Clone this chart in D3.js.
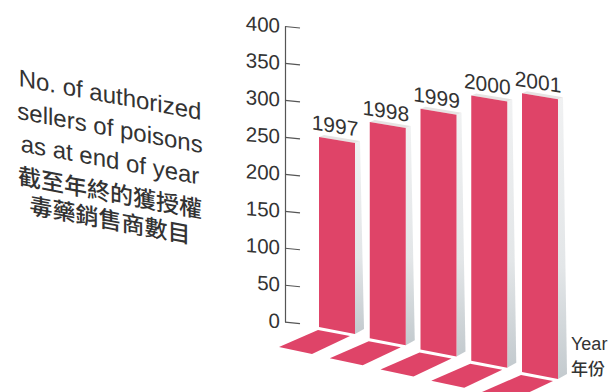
<!DOCTYPE html>
<html>
<head>
<meta charset="utf-8">
<script src="https://cdn.jsdelivr.net/npm/d3@7"></script>
<style>
  html, body { margin: 0; padding: 0; background: #fff; }
  svg { display: block; }
  text { font-family: "Liberation Sans", Arial, sans-serif; fill: #333; }
  .cjk { font-family: "Noto Sans CJK TC", "Noto Sans CJK SC", sans-serif; font-weight: 500; }
</style>
</head>
<body>
<div id="chart"></div>
<script>
var years = ["1997", "1998", "1999", "2000", "2001"];
var sellers = [250, 270, 288, 306, 309];
var yTicks = [0, 50, 100, 150, 200, 250, 300, 350, 400];
var titleEn = ["No. of authorized", "sellers of poisons", "as at end of year"];
var titleZh = ["截至年終的獲授權", "毒藥銷售商數目"];
var xTitle = ["Year", "年份"];

var width = 610, height = 392;

var svg = d3.select("#chart").append("svg")
    .attr("width", width)
    .attr("height", height);

// y axis scale
var y = d3.scaleLinear()
    .domain([0, 400])
    .range([321.7, 26]);

// perspective: each bar sits further right and lower on the floor
var x = d3.scalePoint().domain(years).range([319, 522]);
var foot = d3.scalePoint().domain(years).range([327, 372]);

var barW = 36, slant = 6, depth = 5;
var pink = "#df4468";

var defs = svg.append("defs");
var grad = defs.append("linearGradient")
    .attr("id", "side")
    .attr("x1", 0).attr("y1", 0).attr("x2", 0).attr("y2", 1);
grad.append("stop").attr("offset", "0%").attr("stop-color", "#f0f1f2");
grad.append("stop").attr("offset", "60%").attr("stop-color", "#e3e6e8");
grad.append("stop").attr("offset", "100%").attr("stop-color", "#c3cace");

var bars = years.map(function (d, i) {
    return {year: d, value: sellers[i]};
});

function pts(a) {
    return a.map(function (p) { return p.join(","); }).join(" ");
}

// floor tiles
svg.selectAll(".floor")
    .data(bars)
    .enter()
    .append("polygon")
    .attr("class", "floor")
    .attr("fill", pink)
    .attr("points", function (d) {
        var bx = x(d.year), by = foot(d.year);
        return pts([[bx - 1, by + 3], [bx + 31, by + 9], [bx - 7, by + 27], [bx - 40, by + 20]]);
    });

// shadow side of each bar
svg.selectAll(".side")
    .data(bars)
    .enter()
    .append("polygon")
    .attr("class", "side")
    .attr("fill", "url(#side)")
    .attr("points", function (d) {
        var bx = x(d.year), by = foot(d.year), top = y(d.value);
        return pts([[bx + barW, top + slant], [bx + barW + depth, top + slant - 2],
            [bx + barW + depth + 4, by + slant - 4], [bx + barW, by + slant + 1]]);
    });

// top face
svg.selectAll(".topface")
    .data(bars)
    .enter()
    .append("polygon")
    .attr("class", "topface")
    .attr("fill", "#e6e3e3")
    .attr("points", function (d) {
        var bx = x(d.year), top = y(d.value);
        return pts([[bx, top], [bx + barW, top + slant], [bx + barW + depth, top + slant - 2], [bx + depth, top - 2]]);
    });

// front of bars
svg.selectAll(".bar")
    .data(bars)
    .enter()
    .append("polygon")
    .attr("class", "bar")
    .attr("fill", pink)
    .attr("points", function (d) {
        var bx = x(d.year), by = foot(d.year), top = y(d.value);
        return pts([[bx, top], [bx + barW, top + slant], [bx + barW, by + slant + 1], [bx, by]]);
    });

// year labels above bars
svg.selectAll(".yearLabel")
    .data(bars)
    .enter()
    .append("text")
    .attr("class", "yearLabel")
    .attr("transform", function (d) {
        var cx = x(d.year) + barW / 2 - 2;
        var cy = y(d.value) + slant / 2 - 7;
        return "translate(" + cx + "," + cy + ") skewY(9)";
    })
    .attr("text-anchor", "middle")
    .attr("font-size", 21)
    .text(function (d) { return d.year; });

// y axis
var yAxis = d3.axisLeft(y)
    .tickValues(yTicks)
    .tickSizeInner(-15)
    .tickSizeOuter(0)
    .tickPadding(5);

var axisG = svg.append("g")
    .attr("transform", "translate(285,0)")
    .call(yAxis);

axisG.select(".domain").attr("stroke", "#555").attr("stroke-width", 1.2);
axisG.selectAll(".tick line").attr("stroke", "#555").attr("stroke-width", 1.2).attr("y2", 1.5);
axisG.selectAll(".tick text")
    .attr("font-size", 20.5)
    .attr("font-family", "Liberation Sans, Arial, sans-serif")
    .attr("fill", "#333")
    .attr("transform", "skewY(4)");

// left title, skewed like the floor
var title = svg.append("g")
    .attr("transform", "translate(110,0) skewY(10.5)");

var titleY = [103, 136, 168];
title.selectAll(".en")
    .data(titleEn)
    .enter()
    .append("text")
    .attr("class", "en")
    .attr("x", 0)
    .attr("y", function (d, i) { return titleY[i]; })
    .attr("text-anchor", "middle")
    .attr("font-size", 24)
    .text(function (d) { return d; });

var zhY = [201, 228.5];
title.selectAll(".zh")
    .data(titleZh)
    .enter()
    .append("text")
    .attr("class", "zh cjk")
    .attr("x", 0)
    .attr("y", function (d, i) { return zhY[i]; })
    .attr("text-anchor", "middle")
    .attr("font-size", 23)
    .text(function (d) { return d; });

// x axis title
svg.append("text")
    .attr("x", 571).attr("y", 350)
    .attr("font-size", 18)
    .text(xTitle[0]);
svg.append("text")
    .attr("class", "cjk")
    .attr("x", 571).attr("y", 375)
    .attr("font-size", 17)
    .text(xTitle[1]);
</script>
</body>
</html>
